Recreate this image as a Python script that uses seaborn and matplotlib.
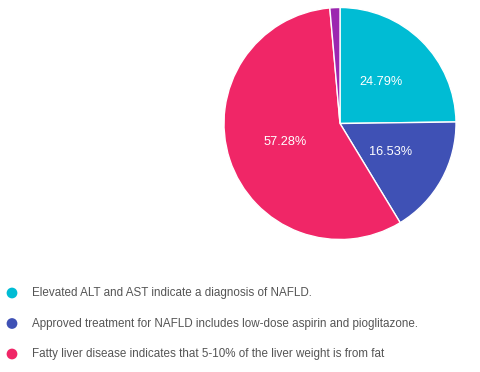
import matplotlib
matplotlib.use("Agg")
import matplotlib.pyplot as plt
import seaborn as sns

# Datos del gráfico
labels = [
    "Elevated ALT and AST indicate a diagnosis of NAFLD.",
    "Approved treatment for NAFLD includes low-dose aspirin and pioglitazone.",
    "Fatty liver disease indicates that 5-10% of the liver weight is from fat",
    "Other",
]
shares = [24.79, 16.53, 57.28, 1.40]
colors = ["#00BCD4", "#3F51B5", "#F02667", "#9C27B0"]
legend_count = 3

sns.set_theme(style="white")
plt.rcParams["font.family"] = ["Liberation Sans", "DejaVu Sans"]

W, H = 480, 372
fig = plt.figure(figsize=(W / 100, H / 100), dpi=100)

# pie centrado en (340, 123) px, radio 116 px
cx, cy, r = 340, 123.5, 116
ax = fig.add_axes([(cx - r) / W, (H - cy - r) / H, 2 * r / W, 2 * r / H])
wedges, texts, autotexts = ax.pie(
    shares, colors=colors, startangle=90, counterclock=False,
    autopct=lambda p: f"{p:.2f}%" if p > 5 else "", pctdistance=0.5,
    wedgeprops=dict(edgecolor="white", linewidth=1),
    textprops=dict(color="white", fontsize=9.2),
)
ax.set_xlim(-1, 1)
ax.set_ylim(-1, 1)
ax.set_aspect("equal")
ax.axis("off")

# leyenda manual abajo a la izquierda
lax = fig.add_axes([0, 0, 1, 1])
lax.set_xlim(0, W)
lax.set_ylim(H, 0)
lax.axis("off")
for i in range(legend_count):
    y = 293 + i * 30.5
    lax.scatter([12], [y], s=60, color=colors[i], edgecolors="none")
    lax.text(32, y, labels[i], fontsize=8.4, color="#555555", va="center", ha="left")

fig.savefig("out.png", dpi=100)
